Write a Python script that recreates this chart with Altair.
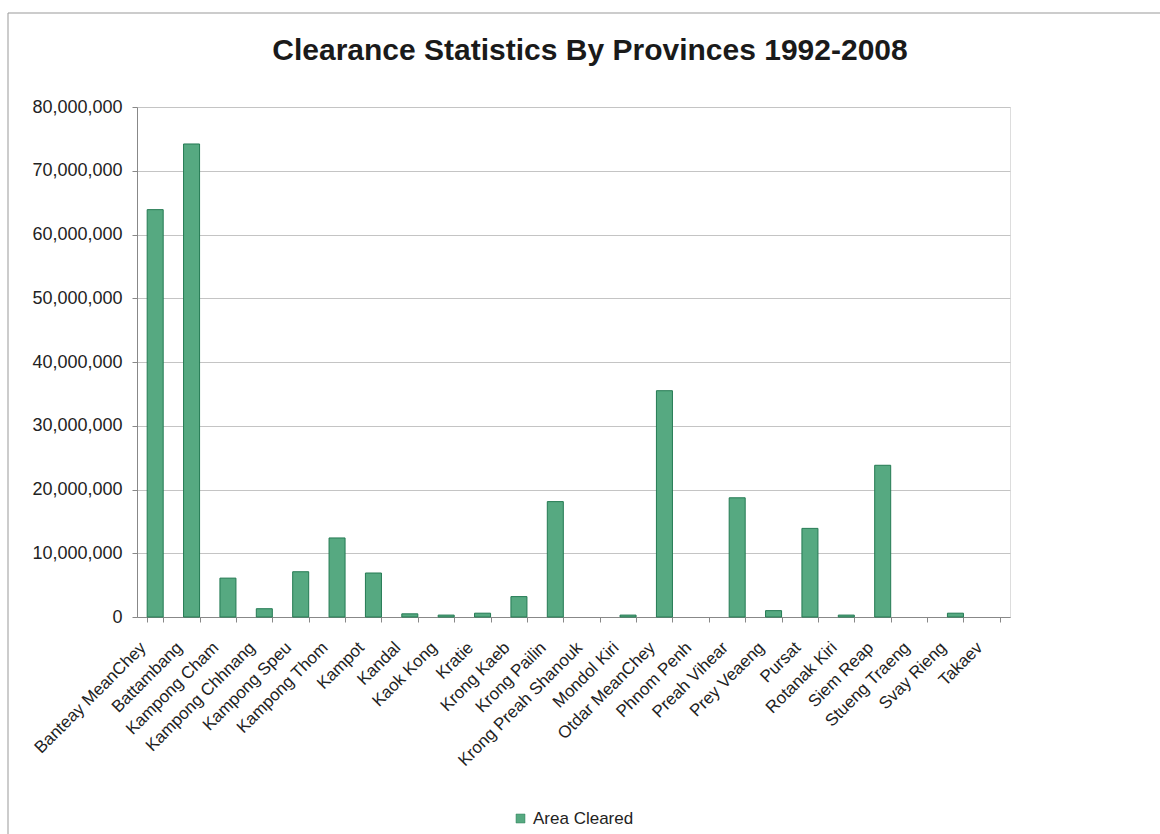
import altair as alt
import pandas as pd

provinces = [
    "Banteay MeanChey", "Battambang", "Kampong Cham", "Kampong Chhnang",
    "Kampong Speu", "Kampong Thom", "Kampot", "Kandal", "Kaok Kong", "Kratie",
    "Krong Kaeb", "Krong Pailin", "Krong Preah Shanouk", "Mondol Kiri",
    "Otdar MeanChey", "Phnom Penh", "Preah Vihear", "Prey Veaeng", "Pursat",
    "Rotanak Kiri", "Siem Reap", "Stueng Traeng", "Svay Rieng", "Takaev",
]
area_cleared = [
    63900000, 74200000, 6100000, 1300000,
    7100000, 12400000, 6900000, 500000, 300000, 600000,
    3200000, 18100000, 0, 300000,
    35500000, 0, 18700000, 1000000, 13900000,
    300000, 23800000, 0, 600000, 0,
]
series_name = "Area Cleared"
chart_title = "Clearance Statistics By Provinces 1992-2008"
y_ticks = [0, 10000000, 20000000, 30000000, 40000000, 50000000, 60000000, 70000000, 80000000]

df = pd.DataFrame({"Province": provinces, "Area": area_cleared, "Series": series_name})
title_df = pd.DataFrame({"t": [chart_title]})

FILL = "#56a981"
EDGE = "#247a53"
FONT = "Liberation Sans"

W, H = 873, 510
LEFT, TOP = 137, 107

bars = alt.Chart(df).mark_bar(stroke=EDGE, strokeWidth=1).encode(
    x=alt.X(
        "Province:N",
        sort=provinces,
        title=None,
        scale=alt.Scale(paddingInner=0.56, paddingOuter=0.28),
        axis=alt.Axis(
            labelAngle=-45,
            labelFontSize=17,
            labelFont=FONT,
            labelColor="#222222",
            labelPadding=17,
            labelOffset=-18,
            tickBand="extent",
            tickSize=5,
            tickColor="#888888",
            domainColor="#888888",
            labelOverlap=False,
            grid=False,
        ),
    ),
    y=alt.Y(
        "Area:Q",
        title=None,
        scale=alt.Scale(domain=[0, 80000000], nice=False),
        axis=alt.Axis(
            values=y_ticks,
            format=",d",
            labelFontSize=18,
            labelFont=FONT,
            labelColor="#222222",
            labelPadding=10,
            tickSize=5,
            tickColor="#888888",
            domainColor="#888888",
            gridColor="#c4c4c4",
            gridWidth=1,
        ),
    ),
    strokeOpacity=alt.condition(alt.datum.Area > 0, alt.value(1), alt.value(0)),
    color=alt.Color(
        "Series:N",
        scale=alt.Scale(range=[FILL]),
        legend=alt.Legend(
            title=None,
            orient="none",
            legendX=375,
            legendY=703,
            symbolType="square",
            symbolSize=80,
            symbolStrokeColor=EDGE,
            symbolStrokeWidth=0.5,
            labelFontSize=17,
            labelFont=FONT,
            labelColor="#222222",
        ),
    ),
)

title_text = alt.Chart(title_df).mark_text(
    font=FONT,
    fontSize=30,
    fontWeight="bold",
    color="#1a1a1a",
    align="center",
    baseline="alphabetic",
).encode(text="t:N", x=alt.value(590 - LEFT), y=alt.value(60 - TOP))

frame_left = alt.Chart(title_df).mark_rule(color="#999999", strokeWidth=1).encode(
    x=alt.value(8 - LEFT), y=alt.value(13 - TOP), y2=alt.value(834 - TOP)
)
frame_top = alt.Chart(title_df).mark_rule(color="#999999", strokeWidth=1).encode(
    x=alt.value(8 - LEFT), x2=alt.value(1160 - LEFT), y=alt.value(13 - TOP)
)

chart = alt.layer(frame_left, frame_top, title_text, bars).properties(
    width=W,
    height=H,
    padding={"left": LEFT, "top": TOP, "right": 1160 - LEFT - W, "bottom": 834 - TOP - H},
    autosize=alt.AutoSizeParams(type="none"),
).configure_view(stroke=None).configure(background="white")

chart.save("out.html", embed_options={"renderer": "svg", "actions": False})
